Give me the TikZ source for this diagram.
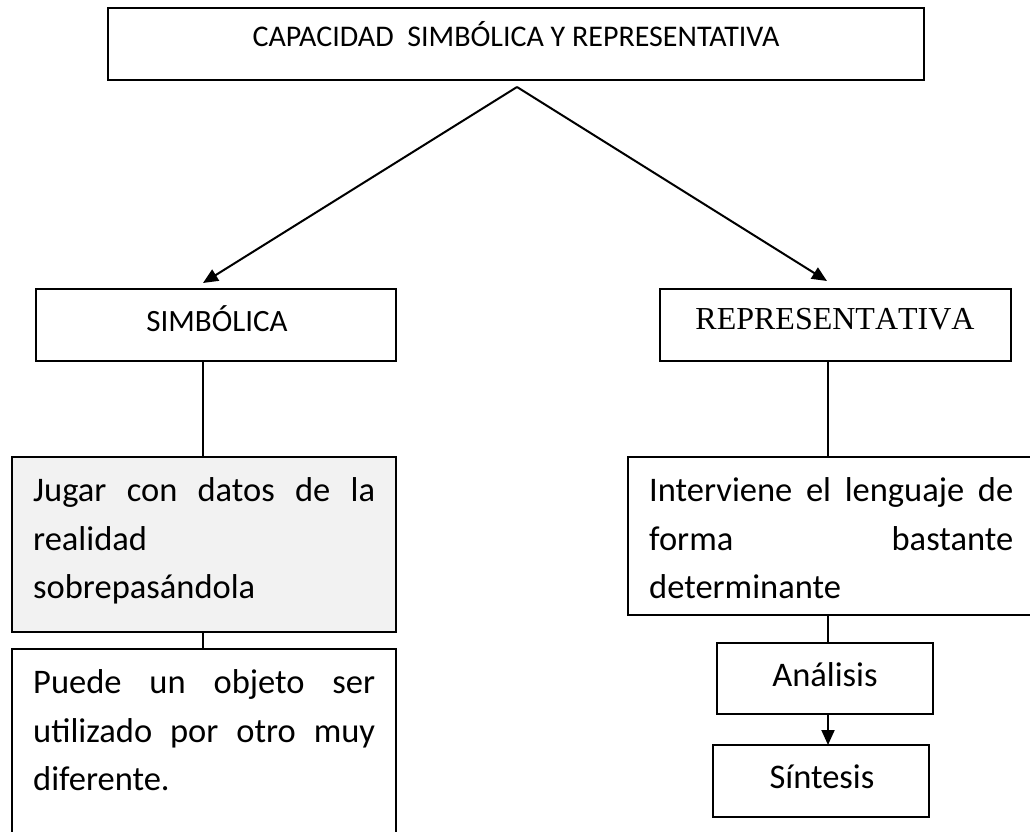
\documentclass[tikz,border=0pt]{standalone}
\usepackage{fontspec}
\setmainfont{Carlito}
\newfontfamily\tnr[Kerning=Off]{Liberation Serif}
\usetikzlibrary{arrows.meta}
\definecolor{boxgray}{HTML}{F2F2F2}
\begin{document}
\begin{tikzpicture}[x=1pt,y=-1pt,
  box/.style={draw, line width=2pt, inner sep=0pt, outer sep=0pt, anchor=north west},
  conn/.style={line width=2pt},
  arr/.style={line width=2pt, -{Triangle[length=15pt,width=13pt]}},
  bodytext/.style={inner sep=0pt, anchor=base west, font=\fontsize{34.5}{48}\selectfont},
  centertext/.style={inner sep=0pt, anchor=base, font=\fontsize{34.5}{48}\selectfont},
  titletext/.style={inner sep=0pt, anchor=base, font=\fontsize{30}{36}\selectfont}
]
\useasboundingbox (0,0) rectangle (1030,832);
\clip (0,0) rectangle (1030,832);
\fill[white] (0,0) rectangle (1030,832);

% top
\node[box, minimum width=816pt, minimum height=72pt] (top) at (108,8) {};
\node[titletext] (toptext) at (516,47) {CAPACIDAD~ SIMBÓLICA Y REPRESENTATIVA};

\coordinate (apex) at (517,87);
\coordinate (tipL) at (203,283);
\coordinate (tipR) at (827,281);
\draw[arr] (apex) -- (tipL);
\draw[arr] (apex) -- (tipR);

% second level
\node[box, minimum width=360pt, minimum height=72pt] (simb) at (36,289) {};
\node[titletext, font=\fontsize{31}{36}\selectfont] (simbtext) at (217,331) {SIMBÓLICA};
\node[box, minimum width=351pt, minimum height=72pt] (repr) at (660,289) {};
\node[titletext, font=\tnr\fontsize{32}{36}\selectfont] (reprtext) at (835,329) {REPRESENTATIVA};

% left column
\node[box, fill=boxgray, minimum width=384pt, minimum height=175pt] (jugar) at (12,457) {};
\node[bodytext] (j1) at (33,501) {\makebox[342pt][s]{Jugar con datos de la}};
\node[bodytext] (j2) at (33,550) {realidad};
\node[bodytext] (j3) at (33,598) {sobrepasándola};

\node[box, minimum width=384pt, minimum height=260pt] (puede) at (12,649) {};
\node[bodytext] (p1) at (33,693) {\makebox[342pt][s]{Puede un objeto ser}};
\node[bodytext] (p2) at (33,742) {\makebox[342pt][s]{utilizado por otro muy}};
\node[bodytext] (p3) at (33,790) {diferente.};

\coordinate (lx) at (203,0);
\draw[conn] (lx |- simb.south) -- (lx |- jugar.north);
\draw[conn] (lx |- jugar.south) -- (lx |- puede.north);

% right column
\node[box, minimum width=420pt, minimum height=158pt] (interv) at (628,457) {};
\node[bodytext] (i1) at (649,501) {\makebox[364pt][s]{Interviene el lenguaje de}};
\node[bodytext] (i2) at (649,550) {\makebox[364pt][s]{forma bastante}};
\node[bodytext] (i3) at (649,598) {determinante};

\node[box, minimum width=216pt, minimum height=71pt] (anal) at (717,643) {};
\node[centertext] (analtext) at (825,686) {Análisis};
\node[box, minimum width=216pt, minimum height=72pt] (sint) at (713,745) {};
\node[centertext] (sinttext) at (822,788) {Síntesis};

\coordinate (rx) at (828,0);
\draw[conn] (rx |- repr.south) -- (rx |- interv.north);
\draw[conn] (rx |- interv.south) -- (rx |- anal.north);
\draw[arr] (rx |- anal.south) -- (rx |- sint.north);
\end{tikzpicture}
\end{document}
